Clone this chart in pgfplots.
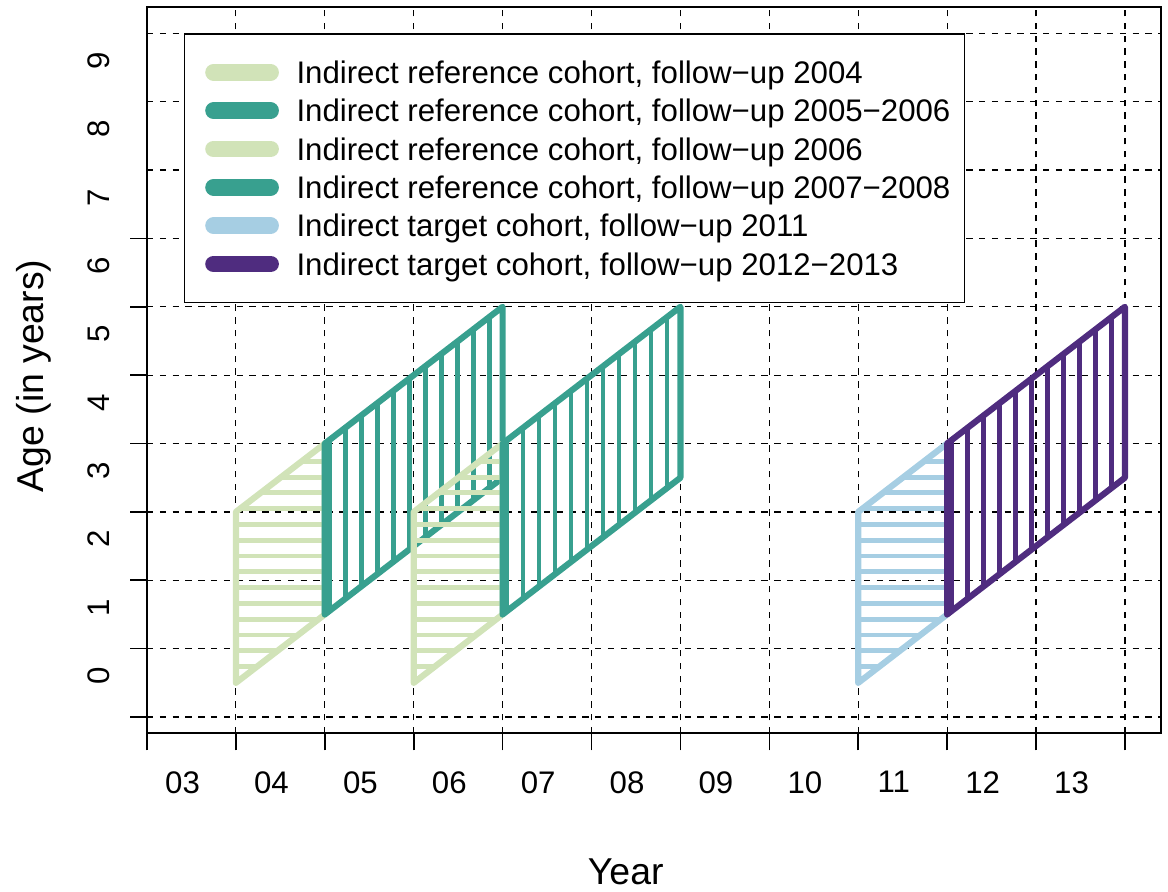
\documentclass[border=0pt]{standalone}
\usepackage{pgfplots}
\pgfplotsset{compat=1.18}
\usepackage{fontspec}
\setmainfont{Liberation Sans}
\definecolor{lgreen}{RGB}{209,227,184}
\definecolor{cteal}{RGB}{56,160,143}
\definecolor{lblue}{RGB}{166,206,227}
\definecolor{cpurple}{RGB}{79,44,127}
\begin{document}
\begin{tikzpicture}
\begin{axis}[
  scale only axis, width=507pt, height=363.15pt,
  xmin=2003, xmax=2014.406, ymin=-0.238, ymax=10.385,
  axis line style={line width=0.8pt},
  tick style={black, line width=0.8pt},
  tick align=outside, tick pos=left,
  major tick length=8.5pt, minor tick length=0pt,
  xtick={2003,2004,2005,2006,2007,2008,2009,2010,2011,2012,2013,2014},
  xticklabel=\empty,
  ytick={0,1,2,3,4,5,6,7}, yticklabel=\empty,
  minor ytick={8,9,10},
  xmajorgrids, ymajorgrids, yminorgrids,
  major grid style={black, line width=0.6pt, dash pattern=on 3.2pt off 3.2pt},
  minor grid style={black, line width=0.6pt, dash pattern=on 3.2pt off 3.2pt},
  extra x ticks={2003.4,2004.4,2005.4,2006.4,2007.4,2008.4,2009.4,2010.4,2011.4,2012.4,2013.4},
  extra x tick labels={03,04,05,06,07,08,09,10,11,12,13},
  extra x tick style={grid=none, major tick length=0pt},
  extra y ticks={0.6,1.6,2.6,3.6,4.6,5.6,6.6,7.6,8.6,9.6},
  extra y tick labels={0,1,2,3,4,5,6,7,8,9},
  extra y tick style={grid=none, major tick length=0pt},
  tick label style={font=\fontsize{15.6}{18}\selectfont, inner sep=0pt},
  xticklabel style={anchor=north, yshift=-18.9pt},
  yticklabel style={xshift=-18.6pt, rotate=90, anchor=south},
  xlabel={Year}, ylabel={Age (in years)},
  label style={font=\fontsize{18.7}{22}\selectfont, inner sep=0pt},
  xlabel style={at={(axis description cs:0.4721,-0.191)}, anchor=center},
  ylabel style={at={(axis description cs:-0.1119,0.492)}, anchor=center},
  unbounded coords=jump,
  legend image code/.code={
    \path[draw=none] (0pt,0pt) -- (36pt,0pt);
    \draw[#1, line width=8.35pt, line cap=round] (7.5pt,0pt) -- (36pt,0pt);},
  legend cell align=left,
  legend style={at={(axis cs:2003.416,10)}, anchor=north west,
    draw=black, line width=0.6pt, fill=white,
    inner xsep=7pt, inner ysep=11.8pt, row sep=4.37pt, column sep=8.8pt,
    font=\fontsize{15.6}{18}\selectfont,
    nodes={inner sep=0pt, text height=13pt, text depth=1.8pt}},
  hatchA/.style={line width=2.4pt, line cap=round, forget plot},
  border/.style={line width=3.1pt, line cap=round, line join=round, forget plot},
]

\addlegendimage{draw=lgreen}
\addlegendentry{Indirect reference cohort, follow−up 2004}
\addlegendimage{draw=cteal}
\addlegendentry{Indirect reference cohort, follow−up 2005−2006}
\addlegendimage{draw=lgreen}
\addlegendentry{Indirect reference cohort, follow−up 2006}
\addlegendimage{draw=cteal}
\addlegendentry{Indirect reference cohort, follow−up 2007−2008}
\addlegendimage{draw=lblue}
\addlegendentry{Indirect target cohort, follow−up 2011}
\addlegendimage{draw=cpurple}
\addlegendentry{Indirect target cohort, follow−up 2012−2013}

% ---- reference cohort, follow-up 2004
\addplot[hatchA, draw=lgreen] table {
x y
2004 0.740
2004.240 0.740
nan nan
2004 0.971
2004.471 0.971
nan nan
2004 1.201
2004.701 1.201
nan nan
2004 1.432
2004.932 1.432
nan nan
2004 1.663
2005 1.663
nan nan
2004 1.894
2005 1.894
nan nan
2004 2.125
2005 2.125
nan nan
2004 2.355
2005 2.355
nan nan
2004 2.586
2005 2.586
nan nan
2004 2.817
2005 2.817
nan nan
2004.048 3.048
2005 3.048
nan nan
2004.279 3.279
2005 3.279
nan nan
2004.509 3.509
2005 3.509
nan nan
2004.740 3.740
2005 3.740
nan nan
2004.971 3.971
2005 3.971
};
\addplot[border, draw=lgreen] coordinates {(2004,0.5) (2004,3.0) (2005,4.0) (2005,1.5) (2004,0.5)};

% ---- reference cohort, follow-up 2005-2006
\addplot[hatchA, draw=cteal] table {
x y
2005.05 1.55
2005.05 4.05
nan nan
2005.23 1.73
2005.23 4.23
nan nan
2005.41 1.91
2005.41 4.41
nan nan
2005.59 2.09
2005.59 4.59
nan nan
2005.77 2.27
2005.77 4.77
nan nan
2005.95 2.45
2005.95 4.95
nan nan
2006.13 2.63
2006.13 5.13
nan nan
2006.31 2.81
2006.31 5.31
nan nan
2006.49 2.99
2006.49 5.49
nan nan
2006.67 3.17
2006.67 5.67
nan nan
2006.85 3.35
2006.85 5.85
};
\addplot[border, draw=cteal] coordinates {(2005,1.5) (2005,4.0) (2007,6.0) (2007,3.5) (2005,1.5)};

% ---- reference cohort, follow-up 2006
\addplot[hatchA, draw=lgreen] table {
x y
2006 0.740
2006.240 0.740
nan nan
2006 0.971
2006.471 0.971
nan nan
2006 1.201
2006.701 1.201
nan nan
2006 1.432
2006.932 1.432
nan nan
2006 1.663
2007 1.663
nan nan
2006 1.894
2007 1.894
nan nan
2006 2.125
2007 2.125
nan nan
2006 2.355
2007 2.355
nan nan
2006 2.586
2007 2.586
nan nan
2006 2.817
2007 2.817
nan nan
2006.048 3.048
2007 3.048
nan nan
2006.279 3.279
2007 3.279
nan nan
2006.509 3.509
2007 3.509
nan nan
2006.740 3.740
2007 3.740
nan nan
2006.971 3.971
2007 3.971
};
\addplot[border, draw=lgreen] coordinates {(2006,0.5) (2006,3.0) (2007,4.0) (2007,1.5) (2006,0.5)};

% ---- reference cohort, follow-up 2007-2008
\addplot[hatchA, draw=cteal] table {
x y
2007.05 1.55
2007.05 4.05
nan nan
2007.23 1.73
2007.23 4.23
nan nan
2007.41 1.91
2007.41 4.41
nan nan
2007.59 2.09
2007.59 4.59
nan nan
2007.77 2.27
2007.77 4.77
nan nan
2007.95 2.45
2007.95 4.95
nan nan
2008.13 2.63
2008.13 5.13
nan nan
2008.31 2.81
2008.31 5.31
nan nan
2008.49 2.99
2008.49 5.49
nan nan
2008.67 3.17
2008.67 5.67
nan nan
2008.85 3.35
2008.85 5.85
};
\addplot[border, draw=cteal] coordinates {(2007,1.5) (2007,4.0) (2009,6.0) (2009,3.5) (2007,1.5)};

% ---- target cohort, follow-up 2011
\addplot[hatchA, draw=lblue] table {
x y
2011 0.740
2011.240 0.740
nan nan
2011 0.971
2011.471 0.971
nan nan
2011 1.201
2011.701 1.201
nan nan
2011 1.432
2011.932 1.432
nan nan
2011 1.663
2012 1.663
nan nan
2011 1.894
2012 1.894
nan nan
2011 2.125
2012 2.125
nan nan
2011 2.355
2012 2.355
nan nan
2011 2.586
2012 2.586
nan nan
2011 2.817
2012 2.817
nan nan
2011.048 3.048
2012 3.048
nan nan
2011.279 3.279
2012 3.279
nan nan
2011.509 3.509
2012 3.509
nan nan
2011.740 3.740
2012 3.740
nan nan
2011.971 3.971
2012 3.971
};
\addplot[border, draw=lblue] coordinates {(2011,0.5) (2011,3.0) (2012,4.0) (2012,1.5) (2011,0.5)};

% ---- target cohort, follow-up 2012-2013
\addplot[hatchA, draw=cpurple] table {
x y
2012.05 1.55
2012.05 4.05
nan nan
2012.23 1.73
2012.23 4.23
nan nan
2012.41 1.91
2012.41 4.41
nan nan
2012.59 2.09
2012.59 4.59
nan nan
2012.77 2.27
2012.77 4.77
nan nan
2012.95 2.45
2012.95 4.95
nan nan
2013.13 2.63
2013.13 5.13
nan nan
2013.31 2.81
2013.31 5.31
nan nan
2013.49 2.99
2013.49 5.49
nan nan
2013.67 3.17
2013.67 5.67
nan nan
2013.85 3.35
2013.85 5.85
};
\addplot[border, draw=cpurple] coordinates {(2012,1.5) (2012,4.0) (2014,6.0) (2014,3.5) (2012,1.5)};

\end{axis}
\pgfresetboundingbox
\path[use as bounding box] ([xshift=-73.5pt,yshift=-79.35pt]current axis.south west) rectangle ([xshift=3.5pt,yshift=3.5pt]current axis.north east);
\end{tikzpicture}
\end{document}
